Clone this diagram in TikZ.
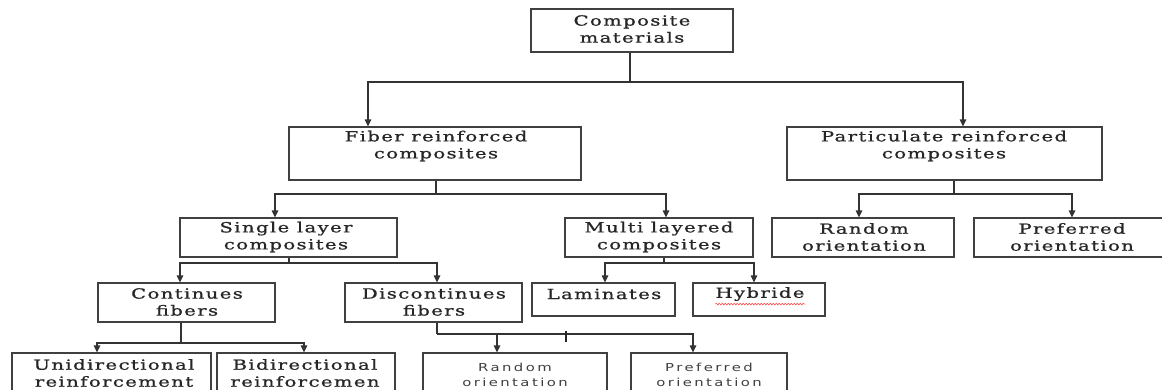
\documentclass[tikz,border=0pt]{standalone}
\usepackage{fontspec}
\setmainfont{DejaVu Serif}[FakeStretch=1.4,LetterSpace=10,FakeBold=0.9]
\newfontfamily\sansw{DejaVu Sans}[FakeStretch=1.35,LetterSpace=22]
\usetikzlibrary{arrows.meta,fit,decorations.pathmorphing}
\tikzset{
  bx/.style={draw=black!75, line width=1.2pt, inner sep=0pt},
  tx/.style={font=\fontsize{14}{17}\selectfont, align=center, text=black!85, inner sep=0pt},
  sx/.style={font=\sansw\fontsize{11}{15}\selectfont, align=center, text=black!75, inner sep=0pt},
  ln/.style={draw=black!80, line width=1.2pt},
  arr/.style={draw=black!80, line width=1.2pt, -{Triangle[length=7pt,width=6.5pt]}},
}
\begin{document}
\begin{tikzpicture}[x=1pt,y=-1pt]
\useasboundingbox (0,0) rectangle (1162,389);
\fill[white] (0,0) rectangle (1162,389);
% boxes
\node[bx, fit={(531,9) (733,52)}] (comp) {};
\node[bx, fit={(289,127) (581,180)}] (fiber) {};
\node[bx, fit={(787,127) (1102,180)}] (part) {};
\node[bx, fit={(180,218) (397,257)}] (single) {};
\node[bx, fit={(565,218) (753,257)}] (multi) {};
\node[bx, fit={(772,218) (954,257)}] (randR) {};
\node[bx, fit={(974,218) (1168,257)}] (prefR) {};
\node[bx, fit={(98,283) (275,322)}] (cont) {};
\node[bx, fit={(345,283) (522,322)}] (disc) {};
\node[bx, fit={(532,283) (675,316)}] (lam) {};
\node[bx, fit={(693,283) (825,316)}] (hyb) {};
\node[bx, fit={(12,353) (211,396)}] (uni) {};
\node[bx, fit={(217,353) (395,396)}] (bi) {};
\node[bx, fit={(423,353) (607,396)}] (rand2) {};
\node[bx, fit={(631,353) (787,396)}] (pref2) {};
% texts
\node[tx] (compt) at (632,29) {Composite\\materials};
\node[tx] (fibert) at (436,146) {Fiber reinforced\\composites};
\node[tx] (partt) at (944,146) {Particulate reinforced\\composites};
\node[tx] (singlet) at (286,237) {Single layer\\composites};
\node[tx] (multit) at (659,237) {Multi layered\\composites};
\node[tx] (randRt) at (864,237) {Random\\orientation};
\node[tx] (prefRt) at (1072,237) {Preferred\\orientation};
\node[tx] (contt) at (187,302) {Continues\\fibers};
\node[tx] (disct) at (434,302) {Discontinues\\fibers};
\node[tx] (lamt) at (604,294) {Laminates};
\node[tx] (hybt) at (760,294) {Hybride};
\node[tx] (unit) at (114,373) {Unidirectional\\reinforcement};
\node[tx] (bit) at (305,373) {Bidirectional\\reinforcemen};
\node[sx] (rand2t) at (515,375) {Random\\orientation};
\node[sx] (pref2t) at (709,375) {Preferred\\orientation};
% red spell-check underline
\draw[red!70, line width=0.6pt, decorate, decoration={snake, amplitude=0.8pt, segment length=3pt}] (hybt.south west) ++(0,3) -- ++(90,0) coordinate (hybu);
% junction coordinates
\coordinate (j0) at (630,82);
\coordinate (j1) at (436,194);
\coordinate (j2) at (954,194);
\coordinate (j3) at (289,263);
\coordinate (j4) at (664,263);
\coordinate (j5) at (181,343);
\coordinate (j6) at (437,334);
\coordinate (xF) at (368,0);
\coordinate (xP) at (963,0);
\coordinate (xS) at (275,0);
\coordinate (xM) at (666,0);
\coordinate (xRR) at (859,0);
\coordinate (xPR) at (1072,0);
\coordinate (xC) at (180,0);
\coordinate (xD) at (437,0);
\coordinate (xL) at (605,0);
\coordinate (xH) at (754,0);
\coordinate (xU) at (97,0);
\coordinate (xB) at (304,0);
\coordinate (xR2) at (497,0);
\coordinate (xP2) at (693,0);
% connectors
\draw[ln] (comp.south -| j0) -- (j0);
\draw[arr] (j0) -| (fiber.north -| xF);
\draw[arr] (j0) -| (part.north -| xP);
\draw[ln] (fiber.south -| j1) -- (j1);
\draw[arr] (j1) -| (single.north -| xS);
\draw[arr] (j1) -| (multi.north -| xM);
\draw[ln] (part.south -| j2) -- (j2);
\draw[arr] (j2) -| (randR.north -| xRR);
\draw[arr] (j2) -| (prefR.north -| xPR);
\draw[ln] (single.south -| j3) -- (j3);
\draw[arr] (j3) -| (cont.north -| xC);
\draw[arr] (j3) -| (disc.north -| xD);
\draw[ln] (multi.south -| j4) -- (j4);
\draw[arr] (j4) -| (lam.north -| xL);
\draw[arr] (j4) -| (hyb.north -| xH);
\draw[ln] (cont.south -| j5) -- (j5);
\draw[arr] (j5) -| (uni.north -| xU);
\draw[arr] (j5) -| (bi.north -| xB);
\draw[ln] (disc.south -| j6) -- (j6);
\draw[arr] (j6) -| (pref2.north -| xP2);
\draw[arr] (j6 -| xR2) -- (rand2.north -| xR2);
\coordinate (tk) at (566,331);
\draw[black!85, line width=2.6pt] (tk) -- ++(0,11) coordinate (tkb);
\end{tikzpicture}
\end{document}
